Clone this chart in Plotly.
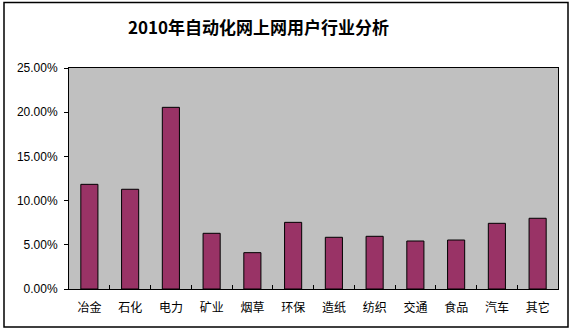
import plotly.graph_objects as go

# Industry breakdown of automation network users, 2010
industries = ["冶金", "石化", "电力", "矿业", "烟草", "环保", "造纸", "纺织", "交通", "食品", "汽车", "其它"]
user_share = [0.1184, 0.1128, 0.2055, 0.0630, 0.0411, 0.0754, 0.0585, 0.0596, 0.0543, 0.0554, 0.0743, 0.0800]
y_ticks = [0.0, 0.05, 0.10, 0.15, 0.20, 0.25]

W, H = 575, 333
L, R, T, B = 69, 17, 68, 44
plot_w = W - L - R
plot_h = H - T - B

def px_x(px):
    return (px - L) / plot_w

def px_y(py):
    return (H - B - py) / plot_h

fig = go.Figure(
    go.Bar(
        x=industries,
        y=user_share,
        marker=dict(color="#993366", line=dict(color="black", width=1)),
        width=0.42,
        hoverinfo="x+y",
    )
)

fig.update_layout(
    width=W,
    height=H,
    margin=dict(l=L, r=R, t=T, b=B),
    paper_bgcolor="white",
    plot_bgcolor="#C0C0C0",
    showlegend=False,
    xaxis=dict(
        type="category",
        tickson="boundaries",
        ticks="inside",
        ticklen=4,
        tickcolor="black",
        showline=True,
        linecolor="black",
        linewidth=1,
        mirror=True,
        showgrid=False,
        ticklabelstandoff=8,
        tickfont=dict(family="Noto Sans CJK SC", size=12, color="black"),
    ),
    yaxis=dict(
        range=[0, 0.25],
        tickvals=y_ticks,
        tickformat=".2%",
        ticks="outside",
        ticklen=4,
        tickcolor="black",
        showline=True,
        linecolor="black",
        linewidth=1,
        mirror=True,
        showgrid=False,
        zeroline=False,
        ticklabelstandoff=4,
        tickfont=dict(family="Liberation Sans", size=12, color="black"),
    ),
    annotations=[
        dict(
            text="<b>2010年自动化网上网用户行业分析</b>",
            xref="paper",
            yref="paper",
            x=px_x(258),
            y=px_y(26),
            xanchor="center",
            yanchor="middle",
            showarrow=False,
            font=dict(family="Noto Sans CJK SC", size=17, color="black"),
        )
    ],
    shapes=[
        dict(
            type="rect",
            xref="paper",
            yref="paper",
            x0=px_x(4),
            x1=px_x(568),
            y0=px_y(327),
            y1=px_y(2.5),
            line=dict(color="black", width=1.5),
            fillcolor="rgba(0,0,0,0)",
            layer="below",
        )
    ],
)

fig.write_html("out.html")
